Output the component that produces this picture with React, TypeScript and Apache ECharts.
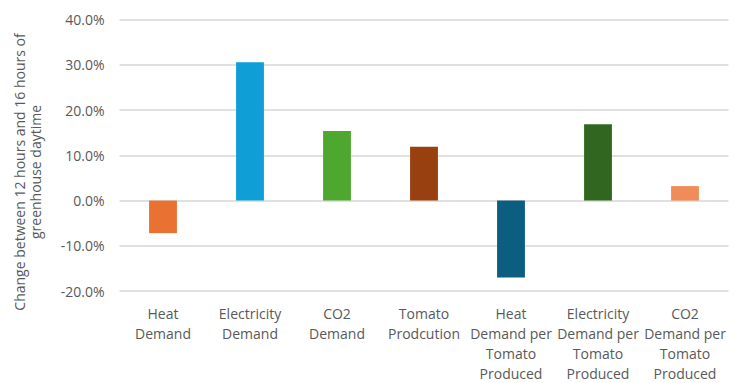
import React, { useEffect, useRef } from "react";
import * as echarts from "echarts";

const categories = [
  "Heat\nDemand",
  "Electricity\nDemand",
  "CO2\nDemand",
  "Tomato\nProdcution",
  "Heat\nDemand per\nTomato\nProduced",
  "Electricity\nDemand per\nTomato\nProduced",
  "CO2\nDemand per\nTomato\nProduced",
];
const values = [-7.2, 30.6, 15.4, 11.9, -17.0, 16.9, 3.2];
const barColors = ["#E97132", "#0F9ED5", "#4EA72E", "#98400F", "#0C5E80", "#30661F", "#EF8C5A"];
const yTitleLines = ["Change between 12 hours and 16 hours of", "greenhouse daytime"];

const FONT = "'Open Sans', 'Noto Sans', sans-serif";

export default function App() {
  const ref = useRef<HTMLDivElement>(null);
  useEffect(() => {
    if (!ref.current) return;
    const chart = echarts.init(ref.current, null, { renderer: "svg" });
    chart.setOption({
      animation: false,
      backgroundColor: "#ffffff",
      grid: { left: 119.5, right: 7.5, top: 19.7, bottom: 87.3, containLabel: false },
      xAxis: {
        type: "category",
        data: categories,
        position: "bottom",
        axisLine: { show: false },
        axisTick: { show: false },
        axisLabel: {
          interval: 0,
          color: "#595959",
          fontFamily: FONT,
          fontSize: 14,
          lineHeight: 20,
          margin: 12,
          verticalAlign: "top",
        },
      },
      yAxis: {
        type: "value",
        min: -20,
        max: 40,
        interval: 10,
        axisLine: { show: false },
        axisTick: { show: false },
        splitLine: { lineStyle: { color: "#d6d6d6", width: 1.5 } },
        axisLabel: {
          color: "#595959",
          fontFamily: FONT,
          fontSize: 14,
          margin: 15,
          formatter: (v: number) => v.toFixed(1) + "%",
        },
      },
      graphic: [
        {
          type: "text",
          x: 27.5,
          y: 172,
          rotation: Math.PI / 2,
          style: {
            text: yTitleLines.join("\n"),
            fill: "#595959",
            font: `14px ${FONT}`,
            lineHeight: 16,
            align: "center",
            verticalAlign: "middle",
          },
        },
      ],
      series: [
        {
          type: "bar",
          data: values.map((v, i) => ({ value: v, itemStyle: { color: barColors[i] } })),
          barWidth: "32%",
        },
      ],
    });
    return () => chart.dispose();
  }, []);
  return <div ref={ref} style={{ width: 736, height: 383, position: "absolute", left: 0, top: 0 }} />;
}
